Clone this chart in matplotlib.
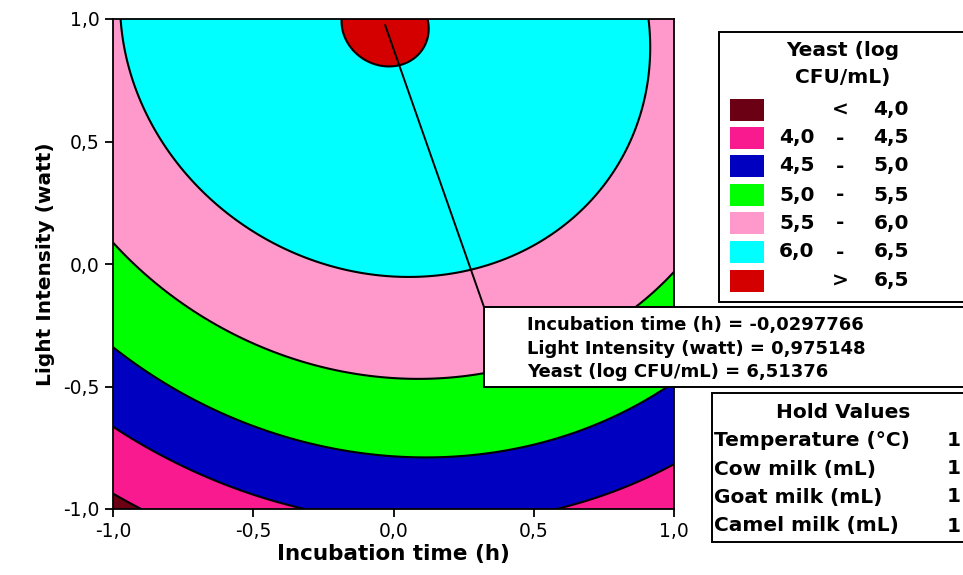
import numpy as np
import matplotlib
matplotlib.use("Agg")
import matplotlib.pyplot as plt
from matplotlib.patches import Rectangle
from matplotlib.ticker import FuncFormatter

# fitted response surface (coded units): Yeast = f(time, light)
terms = ["const", "x", "y", "x2", "y2", "xy"]
coefs = [6.050, 0.058, 0.953, -0.58, -0.49, -0.095]

levels = [4.0, 4.5, 5.0, 5.5, 6.0, 6.5]
colors = ["#6B0014", "#F81A8E", "#0000C0", "#00FF00", "#FF99CC", "#00FFFF", "#D40000"]
legend_labels = [("", "<", "4,0"), ("4,0", "-", "4,5"), ("4,5", "-", "5,0"),
                 ("5,0", "-", "5,5"), ("5,5", "-", "6,0"), ("6,0", "-", "6,5"),
                 ("", ">", "6,5")]

point_x, point_y, point_z = -0.0297766, 0.975148, 6.51376
hold_names = ["Temperature (°C)", "Cow milk (mL)", "Goat milk (mL)", "Camel milk (mL)"]
hold_vals = ["1", "1", "1", "1"]

W, H = 963, 575
fig = plt.figure(figsize=(W / 100, H / 100), dpi=100)
ax = fig.add_axes([113 / W, 1 - 509 / H, 561 / W, 490 / H])

def fx(px):
    return px / W

def fy(py):
    return 1 - py / H

xs = np.linspace(-1, 1, 400)
ys = np.linspace(-1, 1, 400)
X, Y = np.meshgrid(xs, ys)
c = dict(zip(terms, coefs))
Z = c["const"] + c["x"] * X + c["y"] * Y + c["x2"] * X**2 + c["y2"] * Y**2 + c["xy"] * X * Y

lv = [Z.min() - 1] + levels + [Z.max() + 1]
ax.contourf(X, Y, Z, levels=lv, colors=colors)
ax.contour(X, Y, Z, levels=levels, colors="black", linewidths=1.5)

ax.set_xlim(-1, 1)
ax.set_ylim(-1, 1)
ticks = [-1, -0.5, 0, 0.5, 1]
ax.set_xticks(ticks)
ax.set_yticks(ticks)
fmt = FuncFormatter(lambda v, p: ("%.1f" % v).replace(".", ","))
ax.xaxis.set_major_formatter(fmt)
ax.yaxis.set_major_formatter(fmt)
ax.tick_params(direction="out", length=6, width=1.3, labelsize=13.5)
for s in ax.spines.values():
    s.set_linewidth(1.3)
ax.set_xlabel("Incubation time (h)", fontsize=15.5, fontweight="bold", labelpad=2)
ax.set_ylabel("Light Intensity (watt)", fontsize=14.5, fontweight="bold", labelpad=6)

# annotation line from the point to the info box
ax.annotate("", xy=(point_x, point_y), xycoords="data",
            xytext=(fx(484), fy(307)), textcoords="figure fraction",
            arrowprops=dict(arrowstyle="-", color="black", lw=1.4,
                            shrinkA=0, shrinkB=0),
            annotation_clip=False)

def box(x0, y0, x1, y1):
    fig.patches.append(Rectangle((fx(x0), fy(y1)), fx(x1) - fx(x0), fy(y0) - fy(y1),
                                 transform=fig.transFigure, facecolor="white",
                                 edgecolor="black", lw=1.4, zorder=5))

fs = 14.5

# legend box
box(719, 32, 975, 302)
fig.text(fx(843), fy(50), "Yeast (log", ha="center", va="center", fontsize=fs, fontweight="bold", zorder=6)
fig.text(fx(843), fy(78), "CFU/mL)", ha="center", va="center", fontsize=fs, fontweight="bold", zorder=6)
row_y = [110, 138, 166, 195, 223, 252, 281]
for col, (a, sep, b), ry in zip(colors, legend_labels, row_y):
    fig.patches.append(Rectangle((fx(730), fy(ry + 11)), fx(764) - fx(730), fy(ry - 11) - fy(ry + 11),
                                 transform=fig.transFigure, facecolor=col, edgecolor="none", zorder=6))
    fig.text(fx(779), fy(ry), a, ha="left", va="center", fontsize=fs, fontweight="bold", zorder=7)
    fig.text(fx(840), fy(ry), sep, ha="center", va="center", fontsize=fs, fontweight="bold", zorder=7)
    fig.text(fx(909), fy(ry), b, ha="right", va="center", fontsize=fs, fontweight="bold", zorder=7)

# info box
box(484, 307, 975, 387)
info = ["Incubation time (h) = %s" % ("%.7f" % point_x).replace(".", ","),
        "Light Intensity (watt) = %s" % ("%.6f" % point_y).replace(".", ","),
        "Yeast (log CFU/mL) = %s" % ("%.5f" % point_z).replace(".", ",")]
for t, ry in zip(info, [325, 349, 372]):
    fig.text(fx(527), fy(ry), t, ha="left", va="center", fontsize=13, fontweight="bold", zorder=7)

# hold values box
box(712, 393, 975, 542)
fig.text(fx(843), fy(412), "Hold Values", ha="center", va="center", fontsize=fs, fontweight="bold", zorder=7)
for name, val, ry in zip(hold_names, hold_vals, [440, 469, 497, 526]):
    fig.text(fx(714), fy(ry), name, ha="left", va="center", fontsize=fs, fontweight="bold", zorder=7)
    fig.text(fx(947), fy(ry), val, ha="left", va="center", fontsize=fs, fontweight="bold", zorder=7)

fig.savefig("out.png", dpi=100)
